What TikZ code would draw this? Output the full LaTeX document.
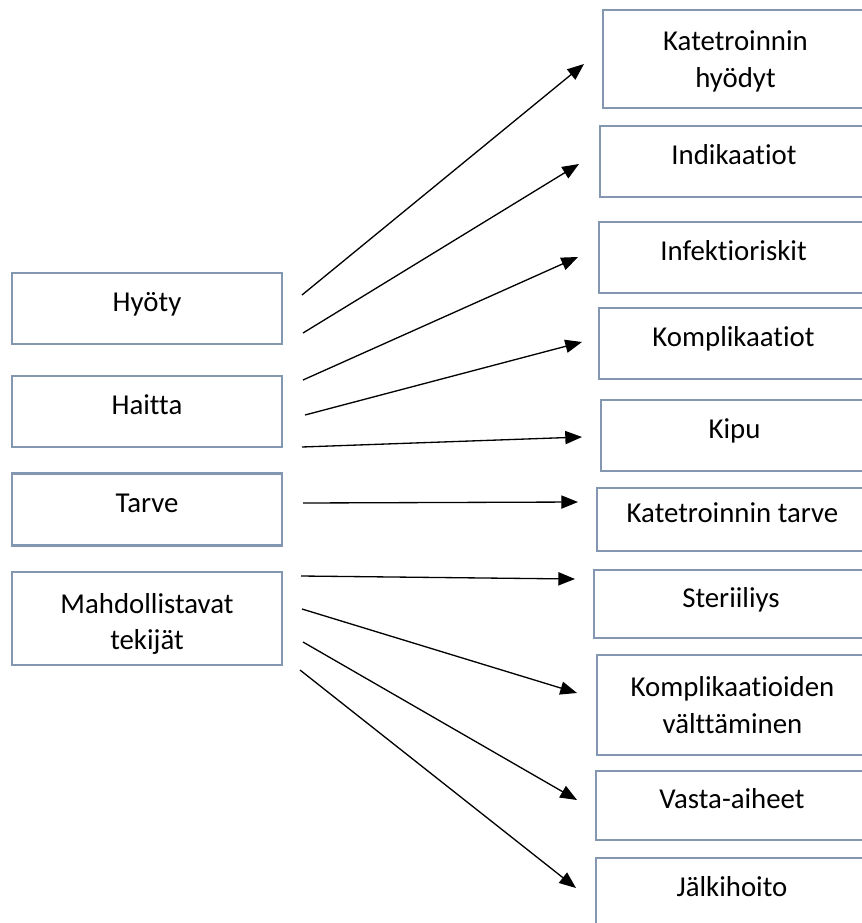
\documentclass[tikz,border=0pt]{standalone}
\usepackage{fontspec}
\setmainfont{Carlito}[Ligatures=NoCommon]
\usetikzlibrary{arrows.meta}
\definecolor{boxline}{RGB}{132,151,176}

\begin{document}
\begin{tikzpicture}[x=0.02cm, y=-0.02cm,
    every node/.style={font=\fontsize{16.4}{21}\selectfont},
    cell/.style={draw=boxline, line width=1.4pt, inner sep=0pt, align=center, text height=8pt, text depth=4.5pt},
    cell2/.style={draw=boxline, line width=1.4pt, inner sep=0pt, align=center, text height=34pt, text depth=2.1pt},
    link/.style={line width=0.75pt, -{Triangle[length=9.5pt, width=7.5pt]}}]
    \clip (0,0) rectangle (862,923);

    % Left column
    \node[cell, minimum width=5.4cm, minimum height=1.42cm] (hyoty) at (147,308.5) {Hyöty};
    \node[cell, minimum width=5.4cm, minimum height=1.42cm] (haitta) at (147,411.5) {Haitta};
    \node[cell, minimum width=5.4cm, minimum height=1.44cm] (tarve) at (147,509.5) {Tarve};
    \node[cell2, minimum width=5.4cm, minimum height=1.86cm, text height=38pt, text depth=2.2pt] (tekijat) at (147,618.5) {Mahdollistavat\\tekijät};

    % Right column (cut off at the right edge)
    \node[cell2, minimum width=5.3cm, minimum height=1.96cm] (hyodyt) at (735.5,59) {Katetroinnin\\hyödyt};
    \node[cell, minimum width=5.36cm, minimum height=1.42cm] (indikaatiot) at (734,161.5) {Indikaatiot};
    \node[cell, minimum width=5.38cm, minimum height=1.42cm] (infektio) at (733.5,257.5) {Infektioriskit};
    \node[cell, minimum width=5.38cm, minimum height=1.42cm] (komplikaatiot) at (733.5,343.5) {Komplikaatiot};
    \node[cell, minimum width=5.34cm, minimum height=1.42cm] (kipu) at (734.5,435.5) {Kipu};
    \node[cell, minimum width=5.42cm, minimum height=1.26cm] (kattarve) at (732.5,519.5) {Katetroinnin tarve};
    \node[cell, minimum width=5.48cm, minimum height=1.36cm] (sterii) at (731,604) {Steriiliys};
    \node[cell2, minimum width=5.42cm, minimum height=2.0cm] (valttaminen) at (732.5,705) {Komplikaatioiden\\välttäminen};
    \node[cell, minimum width=5.44cm, minimum height=1.38cm] (vasta) at (732,805.5) {Vasta-aiheet};
    \node[cell, minimum width=5.44cm, minimum height=1.4cm] (jalki) at (732,893) {Jälkihoito};

    % Arrow ends
    \coordinate (from1) at (302,295);  \coordinate (to-hyodyt) at (584,64);
    \coordinate (from2) at (303,333);  \coordinate (to-indikaatiot) at (579,164);
    \coordinate (from3) at (303,380);  \coordinate (to-infektio) at (578,257);
    \coordinate (from4) at (305,415);  \coordinate (to-komplikaatiot) at (582,342);
    \coordinate (from5) at (302,447);  \coordinate (to-kipu) at (582,437);
    \coordinate (from6) at (303,503);  \coordinate (to-kattarve) at (578,502);
    \coordinate (from7) at (301,576);  \coordinate (to-sterii) at (575,579);
    \coordinate (from8) at (302,609);  \coordinate (to-valttaminen) at (577,693);
    \coordinate (from9) at (303,642);  \coordinate (to-vasta) at (577,800);
    \coordinate (from10) at (300,670); \coordinate (to-jalki) at (576,888);

    % Arrows
    \draw[link] (from1) -- (to-hyodyt);
    \draw[link] (from2) -- (to-indikaatiot);
    \draw[link] (from3) -- (to-infektio);
    \draw[link] (from4) -- (to-komplikaatiot);
    \draw[link] (from5) -- (to-kipu);
    \draw[link] (from6) -- (to-kattarve);
    \draw[link] (from7) -- (to-sterii);
    \draw[link] (from8) -- (to-valttaminen);
    \draw[link] (from9) -- (to-vasta);
    \draw[link] (from10) -- (to-jalki);
\end{tikzpicture}
\end{document}
